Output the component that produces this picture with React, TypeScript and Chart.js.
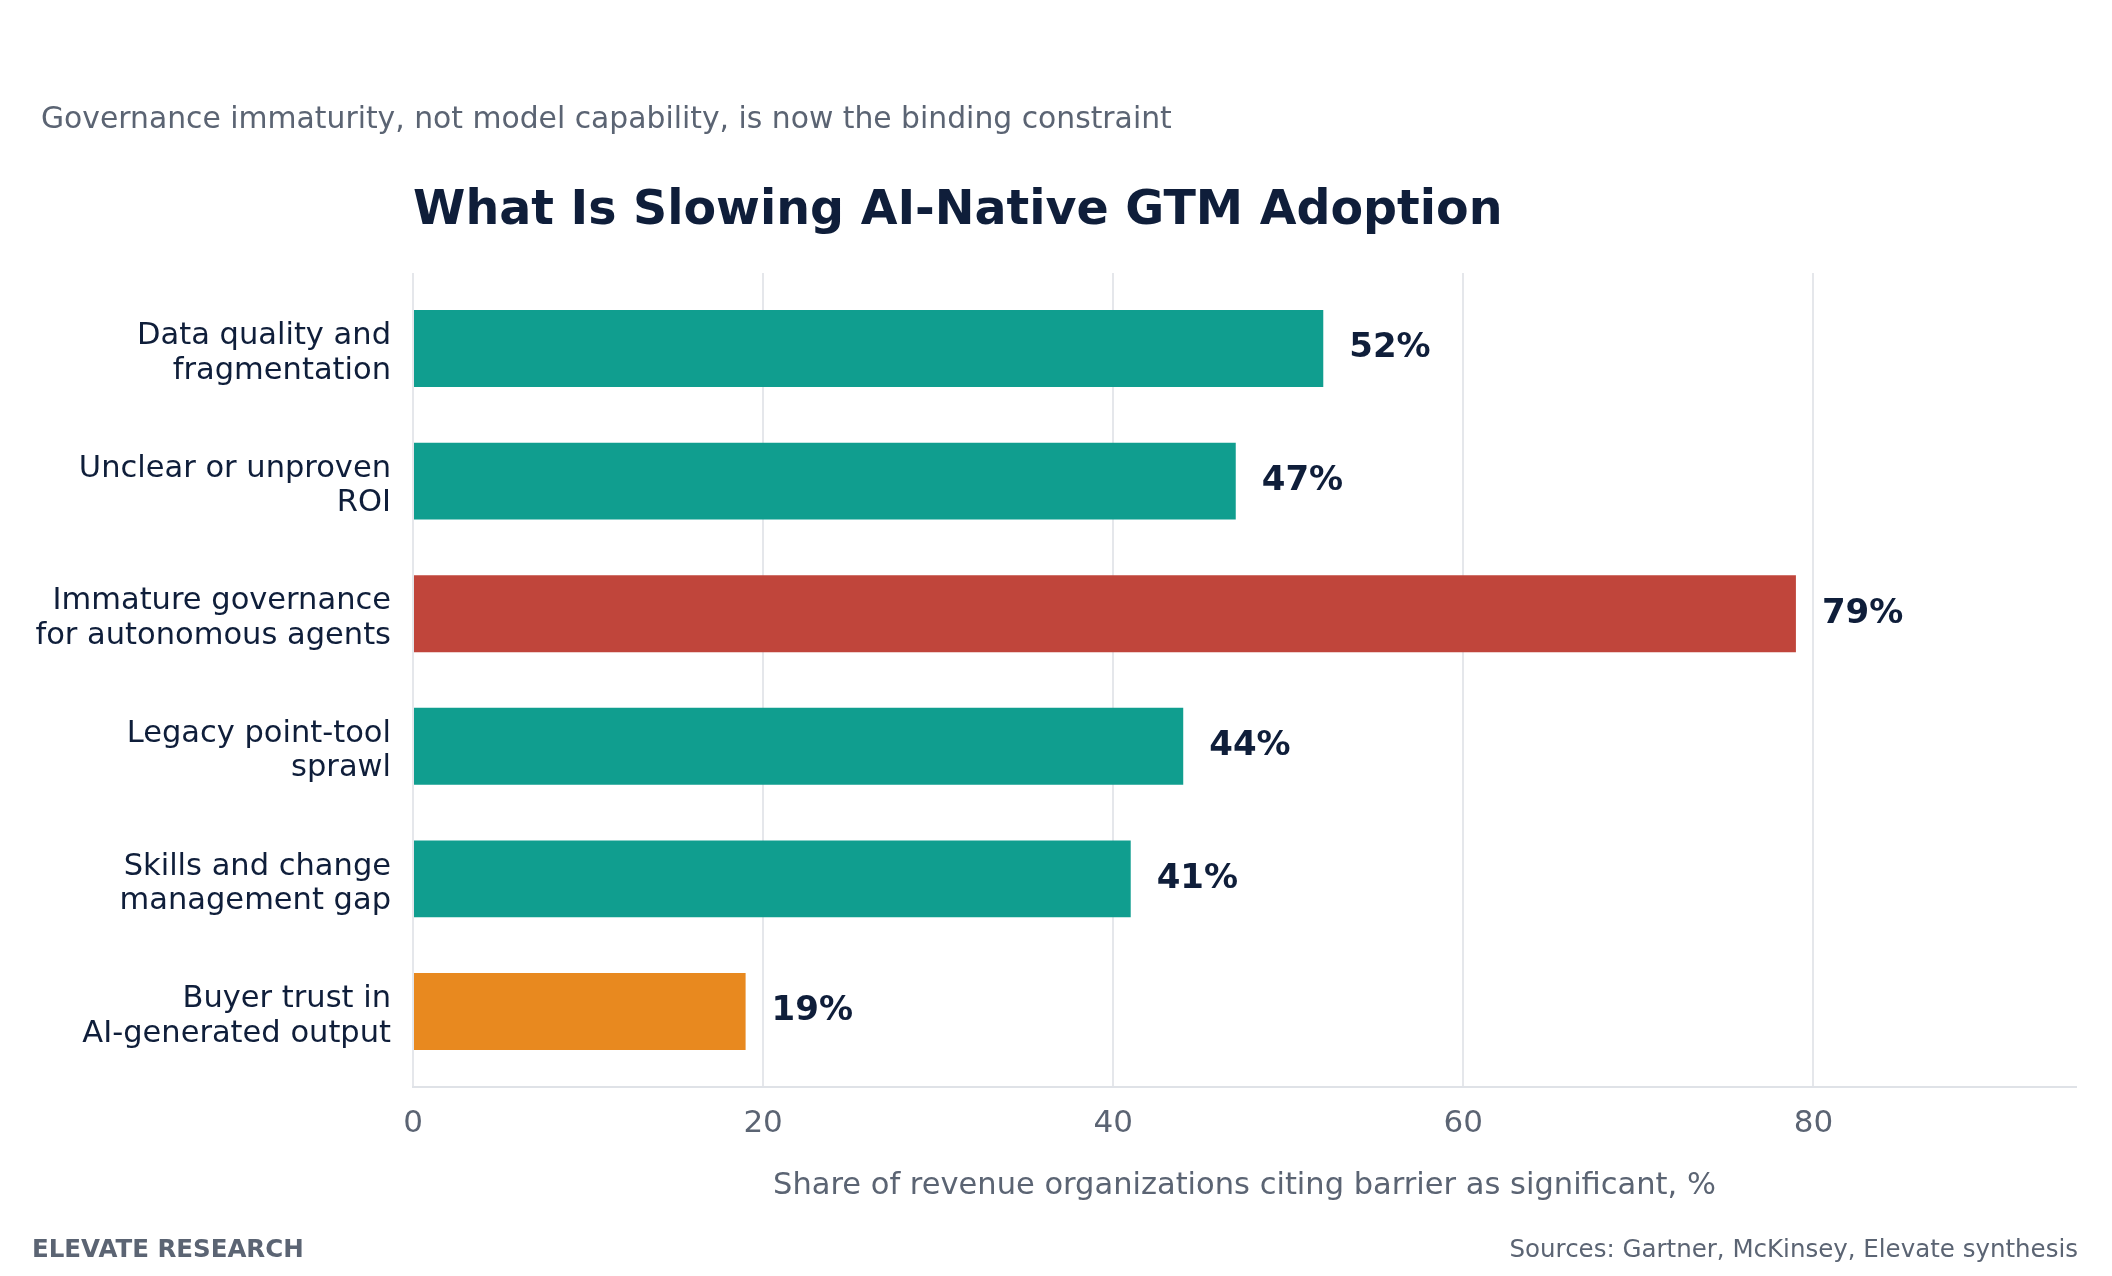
import { useEffect, useRef } from "react"
import { Chart, registerables } from "chart.js"

Chart.register(...registerables)

// Dados do gráfico
const categories = [
  ["Data quality and", "fragmentation"],
  ["Unclear or unproven", "ROI"],
  ["Immature governance", "for autonomous agents"],
  ["Legacy point-tool", "sprawl"],
  ["Skills and change", "management gap"],
  ["Buyer trust in", "AI-generated output"],
]
const shares = [52, 47, 79, 44, 41, 19]
const xTicks = [0, 20, 40, 60, 80]

const subtitle = "Governance immaturity, not model capability, is now the binding constraint"
const title = "What Is Slowing AI-Native GTM Adoption"
const xTitle = "Share of revenue organizations citing barrier as significant, %"
const brand = "ELEVATE RESEARCH"
const sources = "Sources: Gartner, McKinsey, Elevate synthesis"

const NAVY = "#0f1e3a"
const GRAY = "#5b6473"
const FONT = "'DejaVu Sans', sans-serif"

const TEAL = "#109e8f"
const RED = "#c0453b"
const ORANGE = "#e8891f"

// Textos fora do gráfico (subtítulo, título, rodapé)
const pageText = {
  id: "pageText",
  afterDraw(chart: Chart) {
    const { ctx, chartArea } = chart
    ctx.save()
    ctx.textBaseline = "middle"

    ctx.fillStyle = GRAY
    ctx.font = `29.8px ${FONT}`
    ctx.textAlign = "left"
    ctx.fillText(subtitle, 41, 120)

    ctx.fillStyle = NAVY
    ctx.font = `bold 47.5px ${FONT}`
    ctx.fillText(title, chartArea.left, 212)

    ctx.fillStyle = GRAY
    ctx.font = `bold 24.5px ${FONT}`
    ctx.fillText(brand, 32, 1251)

    ctx.font = `24.5px ${FONT}`
    ctx.textAlign = "right"
    ctx.fillText(sources, 2078, 1251)
    ctx.restore()
  },
}

// Rótulos de valor ao lado das barras
const valueLabels = {
  id: "valueLabels",
  afterDatasetsDraw(chart: Chart) {
    const { ctx } = chart
    const meta = chart.getDatasetMeta(0)
    ctx.save()
    ctx.fillStyle = NAVY
    ctx.font = `bold 34px ${FONT}`
    ctx.textAlign = "left"
    ctx.textBaseline = "middle"
    meta.data.forEach((bar: any, i: number) => {
      ctx.fillText(`${shares[i]}%`, bar.x + 26, bar.y)
    })
    ctx.restore()
  },
}

export default function App() {
  const chartRef = useRef<HTMLCanvasElement>(null)
  const chartInstance = useRef<Chart | null>(null)

  useEffect(() => {
    document.body.style.margin = "0"
    document.body.style.overflow = "hidden"
    if (!chartRef.current) return

    if (chartInstance.current) {
      chartInstance.current.destroy()
    }

    const ctx = chartRef.current.getContext("2d")
    if (!ctx) return

    chartInstance.current = new Chart(ctx, {
      type: "bar",
      data: {
        datasets: [
          {
            data: shares.map((v, i) => ({ x: v, y: i })),
            backgroundColor: [TEAL, TEAL, RED, TEAL, TEAL, ORANGE],
            borderWidth: 0,
            barPercentage: 0.58,
            categoryPercentage: 1,
          },
        ],
      },
      options: {
        indexAxis: "y",
        animation: false,
        responsive: true,
        maintainAspectRatio: false,
        layout: {
          padding: { top: 273, right: 36, bottom: 72, left: 0 },
        },
        plugins: {
          legend: { display: false },
          tooltip: { enabled: false },
        },
        scales: {
          x: {
            type: "linear",
            position: "bottom",
            bounds: "data",
            min: 0,
            max: 95,
            afterBuildTicks: (scale: any) => {
              scale.ticks = xTicks.map((v) => ({ value: v }))
            },
            afterFit: (scale: any) => {
              scale.height = 117
            },
            grid: { color: "#e5e7eb", lineWidth: 2, drawTicks: false },
            border: { color: "#dfe2e7", width: 2 },
            ticks: {
              color: GRAY,
              font: { family: FONT, size: 31 },
              padding: 18,
            },
            title: {
              display: true,
              text: xTitle,
              color: GRAY,
              font: { family: FONT, size: 30.5 },
              padding: { top: 0, bottom: 0 },
            },
          },
          y: {
            type: "linear",
            reverse: true,
            offset: false,
            bounds: "data",
            min: -0.57,
            max: 5.57,
            afterBuildTicks: (scale: any) => {
              scale.ticks = categories.map((_, i) => ({ value: i }))
            },
            afterFit: (scale: any) => {
              scale.width = 413
            },
            grid: { display: false, drawTicks: false, offset: false },
            border: { display: false },
            ticks: {
              autoSkip: false,
              includeBounds: false,
              stepSize: 1,
              color: NAVY,
              font: { family: FONT, size: 30.5, lineHeight: 1.13 },
              padding: 22,
              labelOffset: 5,
              callback: (value: any) => categories[value as number],
            },
          },
        },
      },
      plugins: [pageText, valueLabels],
    })

    return () => {
      if (chartInstance.current) {
        chartInstance.current.destroy()
        chartInstance.current = null
      }
    }
  }, [])

  return (
    <div style={{ position: "relative", width: "2112px", height: "1276px", background: "#fff" }}>
      <canvas ref={chartRef} />
    </div>
  )
}
